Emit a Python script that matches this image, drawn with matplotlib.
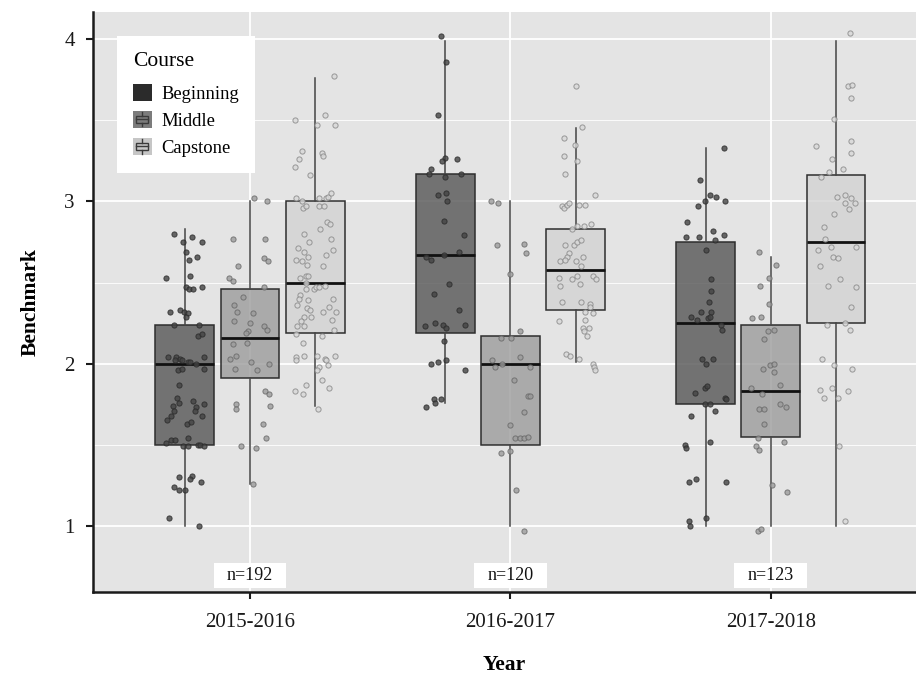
import matplotlib
matplotlib.use('Agg')
import matplotlib.pyplot as plt
from matplotlib.patches import Rectangle
from matplotlib.lines import Line2D
from matplotlib.legend_handler import HandlerBase
from matplotlib.ticker import MultipleLocator
import numpy as np

plt.rcParams['font.family'] = ['Liberation Serif', 'DejaVu Serif']

years = ['2015-2016', '2016-2017', '2017-2018']
courses = ['Beginning', 'Middle', 'Capstone']
n_labels = ['n=192', 'n=120', 'n=123']

# box statistics, one value per year
beg_lo = [1.00, 1.76, 1.00]
beg_q1 = [1.50, 2.19, 1.75]
beg_med = [2.00, 2.67, 2.25]
beg_q3 = [2.24, 3.17, 2.75]
beg_hi = [2.83, 3.99, 3.33]

mid_lo = [1.26, 1.00, 1.00]
mid_q1 = [1.91, 1.50, 1.55]
mid_med = [2.16, 2.00, 1.83]
mid_q3 = [2.46, 2.17, 2.24]
mid_hi = [3.00, 3.00, 2.66]

cap_lo = [1.74, 2.01, 1.00]
cap_q1 = [2.19, 2.33, 2.25]
cap_med = [2.50, 2.58, 2.75]
cap_q3 = [3.00, 2.83, 3.16]
cap_hi = [3.76, 3.45, 3.99]

# jittered individual scores (y value, horizontal jitter offset)
beg15_y = [2.80, 2.75, 2.78, 2.75, 2.69, 2.66, 2.64, 2.53, 2.54, 2.47, 2.46, 2.46, 2.47, 2.32, 2.33, 2.32, 2.31, 2.29, 2.24, 2.24,
           2.17, 2.18, 2.04, 2.04, 2.03, 2.02, 2.02, 2.01, 2.01, 2.00, 2.04, 1.97, 1.96, 1.97, 1.87, 1.79, 1.74, 1.76, 1.77, 1.75,
           1.73, 1.71, 1.71, 1.68, 1.68, 1.65, 1.63, 1.64, 1.51, 1.53, 1.53, 1.54, 1.49, 1.49, 1.50, 1.50, 1.49, 1.30, 1.31, 1.29,
           1.27, 1.24, 1.22, 1.22, 1.05, 1.00]
beg15_dx = [-0.042, -0.008, 0.028, 0.065, 0.005, 0.045, 0.017, -0.074, 0.019, 0.005, 0.014, 0.031, 0.065, -0.059, -0.020,
            -0.005, 0.013, 0.005, -0.042, 0.056, 0.052, 0.065, -0.065, -0.036, -0.020, -0.037, -0.012, 0.013, 0.018, 0.044,
            0.075, 0.073, -0.027, -0.010, -0.023, -0.031, -0.046, -0.023, 0.032, 0.072, 0.044, 0.037, -0.042, -0.055, 0.067,
            -0.069, 0.008, 0.022, -0.074, -0.052, -0.037, 0.012, -0.008, 0.012, 0.050, 0.059, 0.075, -0.023, 0.026, 0.020,
            0.063, -0.040, -0.024, -0.001, -0.061, 0.056]

mid15_y = [3.02, 3.00, 2.77, 2.77, 2.65, 2.63, 2.60, 2.53, 2.51, 2.47, 2.41, 2.36, 2.32, 2.31, 2.26, 2.25, 2.23, 2.21, 2.20,
           2.19, 2.12, 2.13, 2.05, 2.03, 2.01, 2.00, 1.97, 1.96, 1.83, 1.81, 1.75, 1.72, 1.74, 1.63, 1.54, 1.49, 1.48, 1.26]
mid15_dx = [0.017, 0.065, -0.066, 0.056, 0.052, 0.068, -0.048, -0.080, -0.067, 0.054, -0.028, -0.060, -0.049, 0.011, -0.063,
            0.001, 0.053, 0.066, -0.008, -0.015, -0.066, -0.012, -0.053, -0.075, 0.004, 0.072, -0.056, 0.026, 0.057, 0.072,
            -0.053, -0.052, 0.077, 0.049, 0.060, -0.034, 0.024, 0.011]

cap15_y = [3.77, 3.50, 3.53, 3.47, 3.47, 3.31, 3.30, 3.28, 3.26, 3.21, 3.16, 3.02, 3.00, 3.02, 3.02, 3.03, 3.05, 2.96, 2.97,
           2.97, 2.97, 2.87, 2.86, 2.83, 2.80, 2.75, 2.77, 2.71, 2.69, 2.67, 2.70, 2.64, 2.63, 2.66, 2.61, 2.60, 2.53, 2.54,
           2.54, 2.50, 2.48, 2.46, 2.46, 2.47, 2.47, 2.42, 2.40, 2.39, 2.40, 2.36, 2.34, 2.33, 2.35, 2.32, 2.32, 2.29, 2.29,
           2.26, 2.27, 2.23, 2.23, 2.21, 2.18, 2.17, 2.13, 2.04, 2.02, 2.05, 2.05, 2.03, 2.02, 1.98, 1.96, 1.99, 2.05, 1.90,
           1.87, 1.85, 1.83, 1.81, 1.72]
cap15_dx = [0.072, -0.077, 0.037, 0.006, 0.078, -0.052, 0.026, 0.029, -0.063, -0.079, -0.018, -0.075, -0.050, 0.014, 0.042,
            0.051, 0.059, -0.045, -0.035, 0.014, 0.033, 0.045, 0.058, 0.019, -0.041, -0.024, 0.061, -0.067, -0.044, 0.040,
            0.070, -0.073, -0.050, -0.028, -0.032, 0.032, -0.060, -0.037, -0.028, -0.035, 0.038, -0.037, -0.006, 0.004,
            0.013, -0.058, -0.063, -0.026, 0.070, -0.070, -0.032, -0.018, 0.052, 0.081, 0.032, -0.041, -0.015, -0.056,
            0.065, -0.070, -0.041, 0.072, -0.075, 0.026, -0.047, -0.075, -0.075, -0.044, 0.006, 0.036, 0.042, 0.014, 0.006,
            0.049, 0.078, 0.027, -0.035, 0.055, -0.078, -0.047, 0.010]

beg16_y = [4.02, 3.86, 3.53, 3.27, 3.25, 3.26, 3.20, 3.17, 3.17, 3.15, 3.04, 3.05, 3.00, 2.88, 2.79, 2.69, 2.66, 2.64, 2.67,
           2.49, 2.43, 2.33, 2.23, 2.25, 2.24, 2.22, 2.24, 2.14, 2.00, 2.01, 2.02, 1.96, 1.78, 1.76, 1.78, 1.73]
beg16_dx = [-0.018, 0.004, -0.028, 0.000, -0.013, 0.045, -0.056, -0.061, 0.059, 0.000, -0.028, 0.001, 0.008, -0.006, 0.070,
            0.051, -0.074, -0.054, -0.005, 0.014, -0.045, 0.051, -0.077, -0.038, -0.009, 0.001, 0.077, -0.006, -0.056,
            -0.029, 0.001, 0.077, -0.042, -0.041, -0.017, -0.073]

mid16_y = [3.00, 2.99, 2.73, 2.74, 2.68, 2.55, 2.20, 2.16, 2.16, 2.02, 1.98, 2.00, 2.04, 1.98, 1.90, 1.80, 1.80, 1.70, 1.62,
           1.54, 1.54, 1.54, 1.55, 1.45, 1.46, 1.22, 0.97]
mid16_dx = [-0.074, -0.049, -0.050, 0.051, 0.058, 0.000, 0.037, -0.038, 0.003, -0.070, -0.059, -0.032, 0.035, 0.074, 0.015,
            0.067, 0.074, 0.051, 0.000, 0.019, 0.035, 0.051, 0.067, -0.038, 0.000, 0.022, 0.051]

cap16_y = [3.71, 3.46, 3.39, 3.35, 3.28, 3.25, 3.17, 3.04, 2.97, 2.96, 2.98, 2.99, 2.98, 2.98, 2.85, 2.85, 2.86, 2.83, 2.73,
           2.73, 2.75, 2.76, 2.68, 2.66, 2.63, 2.64, 2.63, 2.66, 2.60, 2.53, 2.52, 2.54, 2.54, 2.52, 2.48, 2.49, 2.38, 2.38,
           2.37, 2.35, 2.32, 2.31, 2.26, 2.27, 2.22, 2.22, 2.20, 2.17, 2.06, 2.05, 2.03, 2.00, 1.98, 1.96]
cap16_dx = [0.003, 0.026, -0.045, -0.002, -0.044, 0.006, -0.039, 0.076, -0.054, -0.044, -0.033, -0.026, 0.012, 0.035, 0.007,
            0.033, 0.058, -0.013, -0.042, -0.006, 0.007, 0.022, -0.025, -0.033, -0.061, -0.042, 0.001, 0.029, 0.022,
            -0.063, -0.013, 0.007, 0.068, 0.077, -0.061, 0.016, -0.054, 0.022, 0.054, 0.054, 0.035, 0.067, -0.065, 0.038,
            0.029, 0.051, 0.033, 0.045, -0.038, -0.022, 0.013, 0.067, 0.071, 0.076]

beg17_y = [3.33, 3.13, 3.04, 3.03, 3.00, 2.97, 3.00, 2.87, 2.82, 2.78, 2.78, 2.76, 2.79, 2.70, 2.52, 2.45, 2.38, 2.32, 2.32,
           2.29, 2.27, 2.28, 2.29, 2.24, 2.21, 2.03, 2.00, 2.03, 1.82, 1.85, 1.86, 1.79, 1.78, 1.75, 1.75, 1.71, 1.68, 1.52,
           1.50, 1.48, 1.27, 1.29, 1.27, 1.03, 1.00, 1.05]
beg17_dx = [0.068, -0.021, 0.015, 0.040, -0.003, -0.030, 0.074, -0.071, 0.026, -0.077, -0.026, 0.034, 0.068, 0.002, 0.021,
            0.019, 0.012, -0.020, 0.019, -0.056, -0.035, 0.008, 0.017, 0.060, 0.063, -0.013, 0.002, 0.028, -0.043, -0.002,
            0.006, 0.072, 0.076, -0.004, 0.015, 0.034, -0.056, 0.016, -0.081, -0.075, -0.066, -0.036, 0.076, -0.065,
            -0.060, 0.002]

mid17_y = [2.69, 2.61, 2.48, 2.53, 2.37, 2.28, 2.29, 2.20, 2.21, 2.15, 1.97, 1.99, 2.00, 1.95, 1.87, 1.85, 1.81, 1.72, 1.72,
           1.75, 1.73, 1.63, 1.54, 1.49, 1.47, 1.52, 1.25, 1.21, 0.97, 0.98]
mid17_dx = [-0.044, 0.021, -0.042, -0.006, -0.008, -0.074, -0.040, -0.012, 0.011, -0.025, -0.029, -0.003, 0.011, 0.013,
            0.036, -0.076, -0.035, -0.044, -0.025, 0.036, 0.058, -0.025, -0.051, -0.057, -0.047, 0.049, 0.006, 0.062,
            -0.051, -0.038]

cap17_y = [4.04, 3.71, 3.72, 3.64, 3.51, 3.34, 3.37, 3.30, 3.26, 3.18, 3.20, 3.15, 3.03, 3.04, 3.02, 2.99, 2.99, 2.95, 2.92,
           2.84, 2.77, 2.70, 2.72, 2.72, 2.66, 2.65, 2.60, 2.52, 2.48, 2.47, 2.35, 2.24, 2.25, 2.21, 2.03, 1.99, 1.97, 1.84,
           1.85, 1.83, 1.79, 1.79, 1.49, 1.03]
cap17_dx = [0.055, 0.045, 0.060, 0.058, -0.009, -0.077, 0.056, 0.058, -0.017, -0.028, 0.026, -0.058, 0.003, 0.036, 0.058,
            0.035, 0.072, 0.051, -0.006, -0.047, -0.041, -0.068, -0.019, 0.077, -0.010, 0.009, -0.061, 0.015, -0.032,
            0.077, 0.058, -0.033, 0.036, 0.055, -0.054, -0.009, 0.061, -0.061, -0.017, 0.045, -0.047, 0.006, 0.013, 0.035]

# ---------------------------------------------------------------- styling
panel_bg = '#E4E4E4'
box_fill = {'Beginning': (0.35, 0.35, 0.35, 0.82), 'Middle': (0.62, 0.62, 0.62, 0.82), 'Capstone': (0.83, 0.83, 0.83, 0.82)}
key_fill = {'Beginning': '#2b2b2b', 'Middle': '#7c7c7c', 'Capstone': '#c6c6c6'}
pt_face = {'Beginning': '#444444', 'Middle': '#9c9c9c', 'Capstone': '#d8d8d8'}
pt_edge = {'Beginning': '#2a2a2a', 'Middle': '#666666', 'Capstone': '#858585'}
offsets = {'Beginning': -0.25, 'Middle': 0.0, 'Capstone': 0.25}
box_w = 0.226

stats_by_course = {
    'Beginning': (beg_lo, beg_q1, beg_med, beg_q3, beg_hi),
    'Middle': (mid_lo, mid_q1, mid_med, mid_q3, mid_hi),
    'Capstone': (cap_lo, cap_q1, cap_med, cap_q3, cap_hi),
}
points_by_course = {
    'Beginning': [(beg15_y, beg15_dx), (beg16_y, beg16_dx), (beg17_y, beg17_dx)],
    'Middle': [(mid15_y, mid15_dx), (mid16_y, mid16_dx), (mid17_y, mid17_dx)],
    'Capstone': [(cap15_y, cap15_dx), (cap16_y, cap16_dx), (cap17_y, cap17_dx)],
}

fig = plt.figure(figsize=(9.16, 6.74), dpi=100)
ax = fig.add_axes([0.1015, 0.1217, 0.8985, 0.8605])
ax.set_facecolor(panel_bg)
ax.set_axisbelow(True)

xpos = np.arange(1, len(years) + 1)

for course in courses:
    lo, q1, med, q3, hi = stats_by_course[course]
    stats = [dict(whislo=lo[i], q1=q1[i], med=med[i], q3=q3[i], whishi=hi[i], fliers=[]) for i in range(len(years))]
    pos = xpos + offsets[course]
    ax.bxp(stats, positions=pos, widths=box_w, patch_artist=True, showfliers=False, showcaps=False,
           boxprops=dict(facecolor=box_fill[course], edgecolor='#2e2e2e', linewidth=1.1),
           whiskerprops=dict(color='#444444', linewidth=1.1),
           medianprops=dict(color='#111111', linewidth=2.0),
           manage_ticks=False, zorder=2)

for course in courses:
    for i, (yv, dx) in enumerate(points_by_course[course]):
        n = min(len(yv), len(dx))
        xs = xpos[i] + offsets[course] + np.asarray(dx[:n])
        ax.scatter(xs, np.asarray(yv[:n]), s=14, facecolor=pt_face[course], edgecolor=pt_edge[course],
                   linewidths=0.7, alpha=0.8, zorder=3)

# n labels
for i, lab in enumerate(n_labels):
    ax.add_patch(Rectangle((xpos[i] - 0.14, 0.618), 0.28, 0.151, facecolor='white', edgecolor='none', zorder=4))
    ax.text(xpos[i], 0.692, lab, ha='center', va='center', fontsize=13, color='#111111', zorder=5)

ax.set_xlim(0.397, 3.557)
ax.set_ylim(0.593, 4.167)
ax.set_xticks(xpos)
ax.set_xticklabels(years)
ax.set_yticks([1, 2, 3, 4])
ax.yaxis.set_minor_locator(MultipleLocator(0.5))
ax.tick_params(axis='y', which='minor', length=0)
ax.grid(True, which='major', color='white', linewidth=1.3)
ax.grid(True, which='minor', axis='y', color='white', linewidth=0.6)

for s in ['top', 'right']:
    ax.spines[s].set_visible(False)
for s in ['left', 'bottom']:
    ax.spines[s].set_linewidth(1.8)
    ax.spines[s].set_color('#1a1a1a')
ax.tick_params(axis='both', which='major', length=5, width=1.5, color='#1a1a1a', labelsize=15, labelcolor='#1a1a1a')
ax.tick_params(axis='x', pad=10)
ax.tick_params(axis='y', pad=8)

ax.set_xlabel('Year', fontsize=15.5, fontweight='bold', labelpad=17)
ax.set_ylabel('Benchmark', fontsize=15.5, fontweight='bold', labelpad=17)


class BoxKey(HandlerBase):
    def __init__(self, fill, glyph):
        super().__init__()
        self.fill = fill
        self.glyph = glyph

    def create_artists(self, legend, orig_handle, xdescent, ydescent, width, height, fontsize, trans):
        x0, y0 = -xdescent, -ydescent
        arts = [Rectangle((x0, y0), width, height, facecolor=self.fill, edgecolor='none', transform=trans)]
        if self.glyph:
            cx = x0 + width / 2
            bw = width * 0.62
            b0, b1 = y0 + height * 0.3, y0 + height * 0.72
            col = '#3a3a3a'
            arts.append(Rectangle((cx - bw / 2, b0), bw, b1 - b0, facecolor='none', edgecolor=col, lw=1.0, transform=trans))
            arts.append(Line2D([cx - bw / 2, cx + bw / 2], [(b0 + b1) / 2] * 2, color=col, lw=1.0, transform=trans))
            arts.append(Line2D([cx, cx], [y0 + height * 0.1, b0], color=col, lw=1.0, transform=trans))
            arts.append(Line2D([cx, cx], [b1, y0 + height * 0.92], color=col, lw=1.0, transform=trans))
        return arts


handles = [Rectangle((0, 0), 1, 1, label=c) for c in courses]
hmap = {handles[0]: BoxKey(key_fill['Beginning'], False),
        handles[1]: BoxKey(key_fill['Middle'], True),
        handles[2]: BoxKey(key_fill['Capstone'], True)}
leg = ax.legend(handles=handles, handler_map=hmap, title='Course', loc='upper left',
                bbox_to_anchor=(0.029, 0.958), fontsize=13.4, title_fontsize=15.5, frameon=True,
                fancybox=False, edgecolor='none', facecolor='white', framealpha=1.0,
                handlelength=1.05, handleheight=1.05, handletextpad=0.5, labelspacing=0.44,
                borderpad=0.85, borderaxespad=0.0, alignment='left')
leg._legend_box.sep = 9
leg.set_zorder(6)

fig.savefig('out.png', dpi=100)
